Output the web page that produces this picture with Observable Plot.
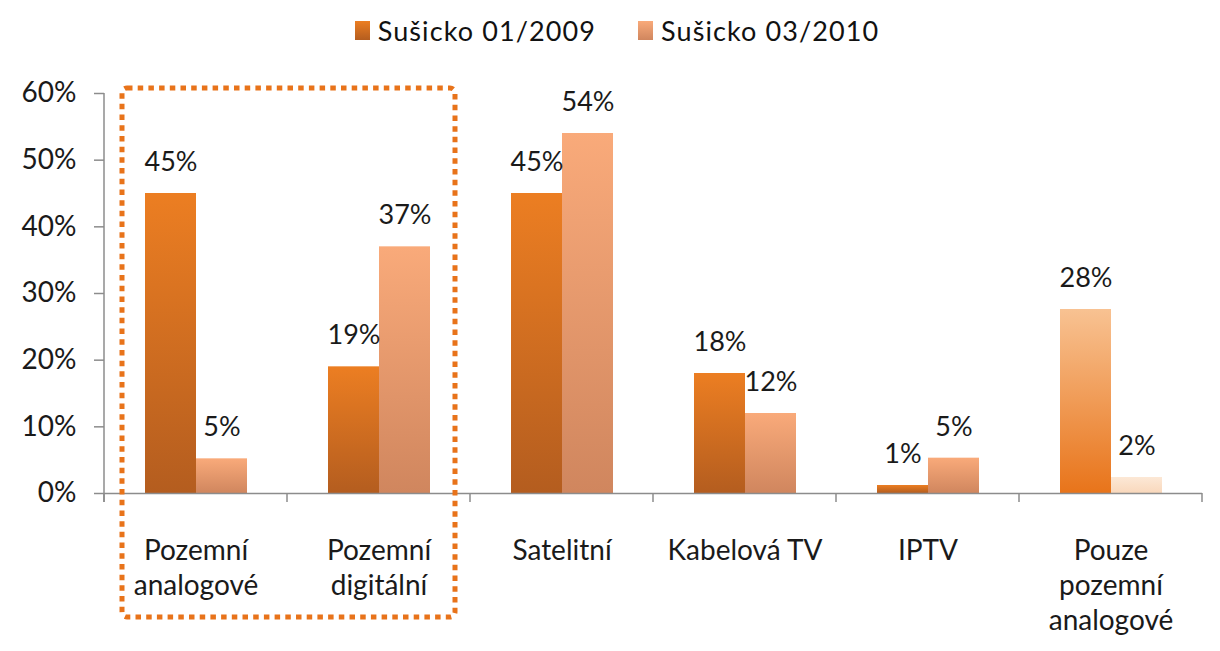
<!DOCTYPE html>
<html><head><meta charset="utf-8">
<script src="https://cdn.jsdelivr.net/npm/d3@7"></script>
<script src="https://cdn.jsdelivr.net/npm/@observablehq/plot@0.6"></script>
<style>
body{margin:0;background:#fff;font-family:Lato,"Open Sans",sans-serif;}
#legend{height:60px;display:flex;justify-content:center;align-items:center;gap:42px;font-size:27px;letter-spacing:1.1px;color:#111;padding-left:14px;box-sizing:border-box;}
.item{display:flex;align-items:center;gap:8px;}
.sw{width:15px;height:19px;display:inline-block;}
svg{overflow:visible}
</style></head><body>
<div id="legend"></div><div id="chart"></div>
<script>
const categories = ["Pozemní\nanalogové","Pozemní\ndigitální","Satelitní","Kabelová TV","IPTV","Pouze\npozemní\nanalogové"];
const series = ["Sušicko 01/2009","Sušicko 03/2010"];
const values2009 = [45,19,45,18,1.2,27.6];
const values2010 = [5.2,37,54,12,5.3,2.4];
const yTicks = [0,10,20,30,40,50,60];

const gradients = {
  g1:["#EC7E22","#B45D1F"],
  g2:["#F9AA7A","#D0865E"],
  gLast1:["#F8C292","#E8741A"],
  gLast2:["#FCE8D6","#F9D8BC"]
};
const seriesGrad = ["g1","g2"];
const lastGrad = ["gLast1","gLast2"];

const rows = [];
categories.forEach((c,i)=>{
  [values2009, values2010].forEach((vals,s)=>{
    const g = i === categories.length-1 ? lastGrad[s] : seriesGrad[s];
    rows.push({cat:c, series:series[s], value:vals[i], fill:`url(#${g})`});
  });
});

// legend
const legend = document.getElementById("legend");
series.forEach((s,i)=>{
  const g = gradients[seriesGrad[i]];
  const it = document.createElement("div"); it.className="item";
  it.innerHTML = `<span class="sw" style="background:linear-gradient(${g[0]},${g[1]})"></span><span>${s}</span>`;
  legend.appendChild(it);
});

const FONT = "Lato, 'Open Sans', sans-serif";
const plot = Plot.plot({
  width:1220, height:591,
  marginTop:33, marginLeft:103, marginRight:18, marginBottom:158,
  style:{fontFamily:FONT, fontSize:"28px", color:"#1a1a1a", background:"transparent", overflow:"visible"},
  fx:{domain:categories, paddingInner:0, paddingOuter:0, label:null},
  x:{domain:series, paddingInner:0, paddingOuter:0.76, axis:null},
  y:{domain:[0,60], label:null},
  color:{type:"identity"},
  marks:[
    Plot.axisY({ticks:yTicks, tickFormat:d=>d+"%", tickSize:10, tickPadding:18, stroke:"#8c8c8c", fill:"#1a1a1a", strokeWidth:1.5, label:null, fontSize:28}),
    Plot.axisFx({anchor:"bottom", tickSize:0, tickPadding:42, label:null, lineHeight:1.25, fontSize:28, fill:"#1a1a1a"}),
    Plot.barY(rows,{fx:"cat", x:"series", y:"value", fill:"fill"}),
    Plot.text(rows,{fx:"cat", x:"series", y:"value", text:d=>Math.round(d.value)+"%", dy:-31, lineAnchor:"middle", fontSize:27, fill:"#1a1a1a"}),
    Plot.ruleY([0],{stroke:"#8c8c8c", strokeWidth:1.5})
  ]
});
document.getElementById("chart").appendChild(plot);

// gradient defs
const svg = d3.select(plot.tagName.toLowerCase()==="svg" ? plot : plot.querySelector("svg"));
const defs = svg.insert("defs",":first-child");
Object.entries(gradients).forEach(([id,[a,b]])=>{
  const lg = defs.append("linearGradient").attr("id",id).attr("x1",0).attr("y1",0).attr("x2",0).attr("y2",1);
  lg.append("stop").attr("offset","0%").attr("stop-color",a);
  lg.append("stop").attr("offset","100%").attr("stop-color",b);
});

// axis line, category boundary ticks and highlight box, positioned from the scales
const fx = plot.scale("fx"), y = plot.scale("y");
const bw = fx.bandwidth;
const y0 = y.apply(0);
const xLeft = fx.apply(categories[0]);
svg.append("line").attr("x1",xLeft).attr("x2",xLeft).attr("y1",y.apply(yTicks[yTicks.length-1])).attr("y2",y0+9)
  .attr("stroke","#8c8c8c").attr("stroke-width",1.5);
const bounds = categories.map(c=>fx.apply(c)).concat([fx.apply(categories[categories.length-1])+bw]);
svg.append("g").selectAll("line").data(bounds).join("line")
  .attr("x1",d=>d).attr("x2",d=>d).attr("y1",y0).attr("y2",y0+9)
  .attr("stroke","#8c8c8c").attr("stroke-width",1.5);

const hx0 = fx.apply(categories[0]) + 18;
const hx1 = fx.apply(categories[1]) + bw - 15;
const hy0 = y.apply(60) - 5;
const hy1 = y0 + 124;
svg.append("rect").attr("x",hx0).attr("y",hy0).attr("width",hx1-hx0).attr("height",hy1-hy0)
  .attr("rx",5).attr("fill","none").attr("stroke","#E8731A").attr("stroke-width",5)
  .attr("stroke-dasharray","5.5 5.2");
</script>
</body></html>
